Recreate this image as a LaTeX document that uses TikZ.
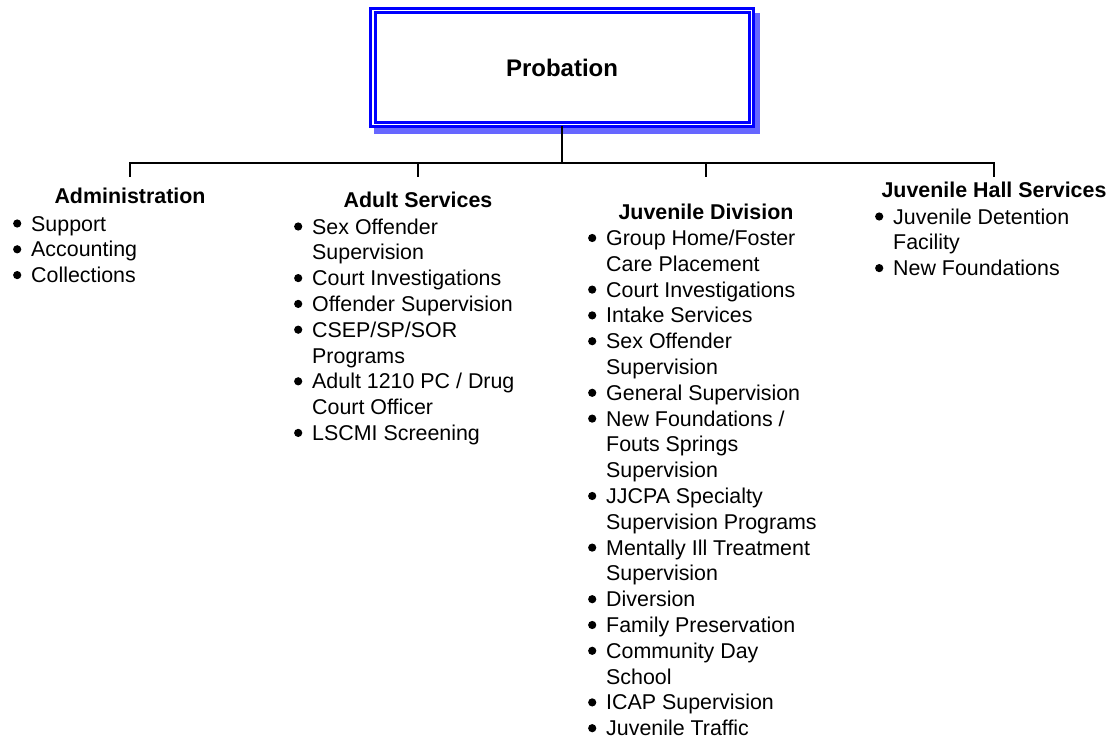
\documentclass[tikz,border=0pt]{standalone}
\usepackage{fontspec}
\setmainfont{Liberation Sans}
\newcommand\itm{\llap{\tikz[baseline=0pt]\fill (0pt,7.5pt) circle (4.1pt);\hspace{9.9pt}}}
\tikzset{
  conn/.style={draw=black, line width=2pt},
  head/.style={font=\fontsize{21.4}{25.8}\selectfont\bfseries, inner sep=0pt, anchor=base},
  blist/.style={font=\fontsize{21.4}{25.8}\selectfont, inner sep=0pt, anchor=base west},
  topbox/.style={draw=blue, line width=3pt, double=white, double distance=1.5pt, fill=white,
     minimum width=378.5pt, minimum height=114.2pt, inner sep=0pt,
     font=\fontsize{24}{28}\selectfont\bfseries},
}
\begin{document}
\begin{tikzpicture}[x=1pt,y=-1pt]
\useasboundingbox (0,0) rectangle (1110,738);
% shadow
\fill[blue!60] (374,13) rectangle (760,134);
\node[topbox] (top) at (562,67.5) {Probation};

% headings
\node[head] (adm) at (130,204) {Administration};
\node[head] (adu) at (418,207.5) {Adult Services};
\node[head] (juv) at (706,219) {Juvenile Division};
\node[head] (hal) at (994,197.5) {Juvenile Hall Services};

% connectors
\coordinate (bus) at (562,163);
\coordinate (jA) at (130,163);
\coordinate (jB) at (418,163);
\coordinate (jJ) at (706,163);
\coordinate (jH) at (994,163);
\coordinate (dA) at (130,177);
\coordinate (dB) at (418,177);
\coordinate (dJ) at (706,177);
\coordinate (dH) at (994,177);
\draw[conn] (top.south) -- (bus);
\draw[conn] (dA) -- (jA) -- (jH) -- (dH);
\draw[conn] (jB) -- (dB);
\draw[conn] (jJ) -- (dJ);

% lists
\node[blist] (admL) at (31,231) {\begin{tabular}[t]{@{}l@{}}
\itm Support\\
\itm Accounting\\
\itm Collections
\end{tabular}};

\node[blist] (aduL) at (312,234) {\begin{tabular}[t]{@{}l@{}}
\itm Sex Offender\\
Supervision\\
\itm Court Investigations\\
\itm Offender Supervision\\
\itm CSEP/SP/SOR\\
Programs\\
\itm Adult 1210 PC / Drug\\
Court Officer\\
\itm LSCMI Screening
\end{tabular}};

\node[blist] (juvL) at (606,245.5) {\begin{tabular}[t]{@{}l@{}}
\itm Group Home/Foster\\
Care Placement\\
\itm Court Investigations\\
\itm Intake Services\\
\itm Sex Offender\\
Supervision\\
\itm General Supervision\\
\itm New Foundations /\\
Fouts Springs\\
Supervision\\
\itm JJCPA Specialty\\
Supervision Programs\\
\itm Mentally Ill Treatment\\
Supervision\\
\itm Diversion\\
\itm Family Preservation\\
\itm Community Day\\
School\\
\itm ICAP Supervision\\
\itm Juvenile Traffic
\end{tabular}};

\node[blist] (halL) at (893,224) {\begin{tabular}[t]{@{}l@{}}
\itm Juvenile Detention\\
Facility\\
\itm New Foundations
\end{tabular}};
\end{tikzpicture}
\end{document}
